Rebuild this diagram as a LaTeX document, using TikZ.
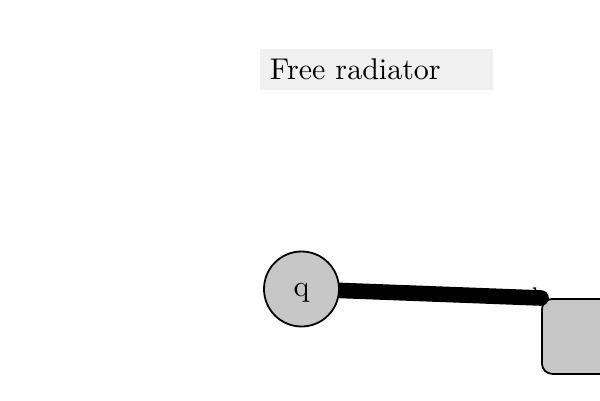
\documentclass[tikz,border=0pt]{standalone}
\usetikzlibrary{backgrounds}
\tikzset{
  titlebox/.style={fill=black!6, minimum width=77.7pt, minimum height=13pt, text width=71pt, align=left, inner sep=3.3pt},
  roundnode/.style={circle, draw=black, line width=0.6pt, fill=black!22, minimum size=25pt, inner sep=0pt},
  boxnode/.style={rectangle, draw=black, line width=0.6pt, fill=black!22, rounded corners=3.5pt, minimum width=40pt, minimum height=25pt, anchor=north west},
  thickline/.style={line width=5.2pt, line cap=round, draw=black}
}
\begin{document}
\begin{tikzpicture}[x=0.3333pt,y=-0.3333pt]
\useasboundingbox (0,0) rectangle (600,400);
\node[titlebox] (title) at (376.5,69.5) {Free radiator};
\node[roundnode, text depth=0pt] (q) at (301.5,289) {\raisebox{-0.5pt}{q}};
\begin{scope}[on background layer]
\node[boxnode] (r) at (541,298) {};
\draw[thickline] (q) -- (r.north west);
\end{scope}
\node[font=\footnotesize, inner sep=0pt, text=black] (b) at (539,296) {b};
\end{tikzpicture}
\end{document}
